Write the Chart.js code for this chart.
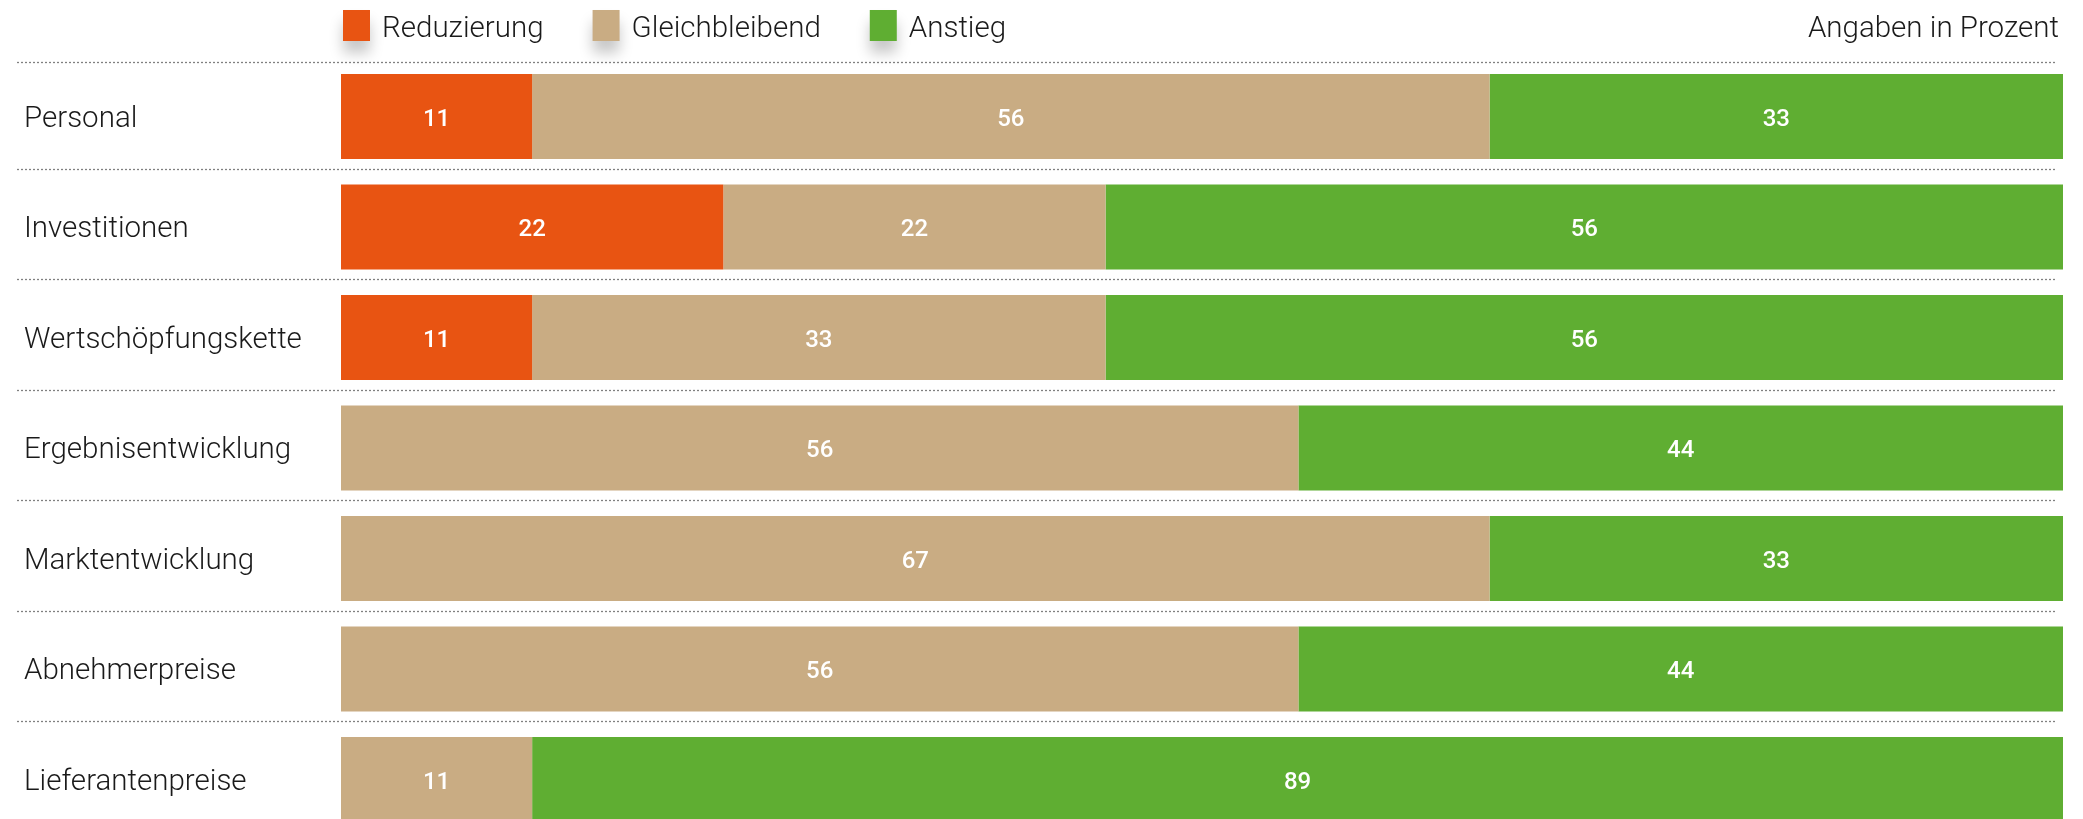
<!DOCTYPE html>
<html lang="de">
<head>
<meta charset="utf-8">
<title>Erwartete Entwicklung</title>
<script src="https://cdn.jsdelivr.net/npm/chart.js@4"></script>
<style>
  html, body { margin: 0; padding: 0; background: #fff; overflow: hidden; }
  canvas { display: block; }
</style>
</head>
<body>
<canvas id="chart" width="2083" height="819"></canvas>
<script>
// Kategorien und Werte (Angaben in Prozent, Beschriftung gerundet)
const categories = ['Personal', 'Investitionen', 'Wertschöpfungskette', 'Ergebnisentwicklung', 'Marktentwicklung', 'Abnehmerpreise', 'Lieferantenpreise'];
const reduzierung = [11.1, 22.2, 11.1, 0, 0, 0, 0];
const gleichbleibend = [55.6, 22.2, 33.3, 55.6, 66.7, 55.6, 11.1];
const anstieg = [33.3, 55.6, 55.6, 44.4, 33.3, 44.4, 88.9];
const seriesNames = ['Reduzierung', 'Gleichbleibend', 'Anstieg'];
const colors = ['#E85412', '#C9AC83', '#5FAE32'];
const note = 'Angaben in Prozent';

const FONT = 'Roboto, "Open Sans", sans-serif';

// Legende oben mit Schatten unter den Kästchen
const legendPlugin = {
    id: 'topLegend',
    afterDraw(chart) {
        const ctx = chart.ctx;
        const area = chart.chartArea;
        ctx.save();
        ctx.font = '300 29.5px ' + FONT;
        ctx.textBaseline = 'alphabetic';
        let x = area.left + 2;
        chart.data.datasets.forEach(ds => {
            ctx.save();
            ctx.shadowColor = 'rgba(0,0,0,0.22)';
            ctx.shadowBlur = 14;
            ctx.shadowOffsetY = 12;
            ctx.fillStyle = ds.backgroundColor;
            ctx.fillRect(x, 10, 27, 31);
            ctx.restore();
            ctx.fillStyle = '#1a1a1a';
            ctx.textAlign = 'left';
            ctx.fillText(ds.label, x + 39, 37);
            x += 39 + ctx.measureText(ds.label).width + 49;
        });
        ctx.textAlign = 'right';
        ctx.fillStyle = '#1a1a1a';
        ctx.fillText(note, area.right - 4, 37);
        ctx.restore();
    }
};

// gepunktete Trennlinien zwischen den Zeilen
const dividerPlugin = {
    id: 'dividers',
    beforeDatasetsDraw(chart) {
        const ctx = chart.ctx;
        const y = chart.scales.y;
        const area = chart.chartArea;
        ctx.save();
        ctx.strokeStyle = '#808080';
        ctx.lineWidth = 1.3;
        ctx.setLineDash([2, 2]);
        for (let i = 0; i < categories.length; i++) {
            let py = y.getPixelForValue(i - 0.5) - 3;
            if (i === 0) py = area.top + 0.5;
            ctx.beginPath();
            ctx.moveTo(17, Math.round(py) + 0.5);
            ctx.lineTo(area.right - 7, Math.round(py) + 0.5);
            ctx.stroke();
        }
        ctx.restore();
    }
};

// Werte in den Balken
const valueLabels = {
    id: 'valueLabels',
    afterDatasetsDraw(chart) {
        const ctx = chart.ctx;
        ctx.save();
        ctx.font = '500 24px ' + FONT;
        ctx.fillStyle = '#ffffff';
        ctx.textAlign = 'center';
        ctx.textBaseline = 'middle';
        chart.data.datasets.forEach((ds, di) => {
            chart.getDatasetMeta(di).data.forEach((bar, i) => {
                const v = ds.data[i].x;
                if (!v) return;
                const cx = (bar.x + bar.base) / 2;
                ctx.fillText(String(Math.round(v)), cx, bar.y + 3);
            });
        });
        ctx.restore();
    }
};

const seriesData = [reduzierung, gleichbleibend, anstieg];

new Chart(document.getElementById('chart'), {
    type: 'bar',
    data: {
        datasets: seriesNames.map((name, i) => ({
            label: name,
            data: seriesData[i].map((v, j) => ({ x: v, y: j })),
            backgroundColor: colors[i],
            borderWidth: 0,
            categoryPercentage: 1,
            barPercentage: 0.769
        }))
    },
    options: {
        indexAxis: 'y',
        responsive: false,
        animation: false,
        devicePixelRatio: 1,
        layout: { padding: { top: 61.25, right: 20, bottom: 0, left: 24 } },
        plugins: {
            legend: { display: false },
            tooltip: { enabled: false }
        },
        scales: {
            x: {
                stacked: true,
                min: 0,
                max: 100,
                display: false
            },
            y: {
                type: 'linear',
                stacked: true,
                reverse: true,
                offset: false,
                bounds: 'data',
                // letzte Zeile läuft unten aus dem Bild heraus
                afterDataLimits(scale) {
                    scale.min = -0.5;
                    scale.max = 6.357;
                },
                grid: { display: false, drawTicks: false, offset: false },
                border: { display: false },
                afterBuildTicks(scale) {
                    scale.ticks = categories.map((c, i) => ({ value: i }));
                },
                ticks: {
                    crossAlign: 'far',
                    padding: 0,
                    labelOffset: 3,
                    color: '#1a1a1a',
                    font: { family: FONT, size: 29.5, weight: '300' },
                    callback: (v) => categories[v] ?? ''
                },
                afterFit(scale) {
                    scale.width = 317;
                    scale.paddingTop = 0;
                    scale.paddingBottom = 0;
                }
            }
        }
    },
    plugins: [dividerPlugin, valueLabels, legendPlugin]
});
</script>
</body>
</html>
